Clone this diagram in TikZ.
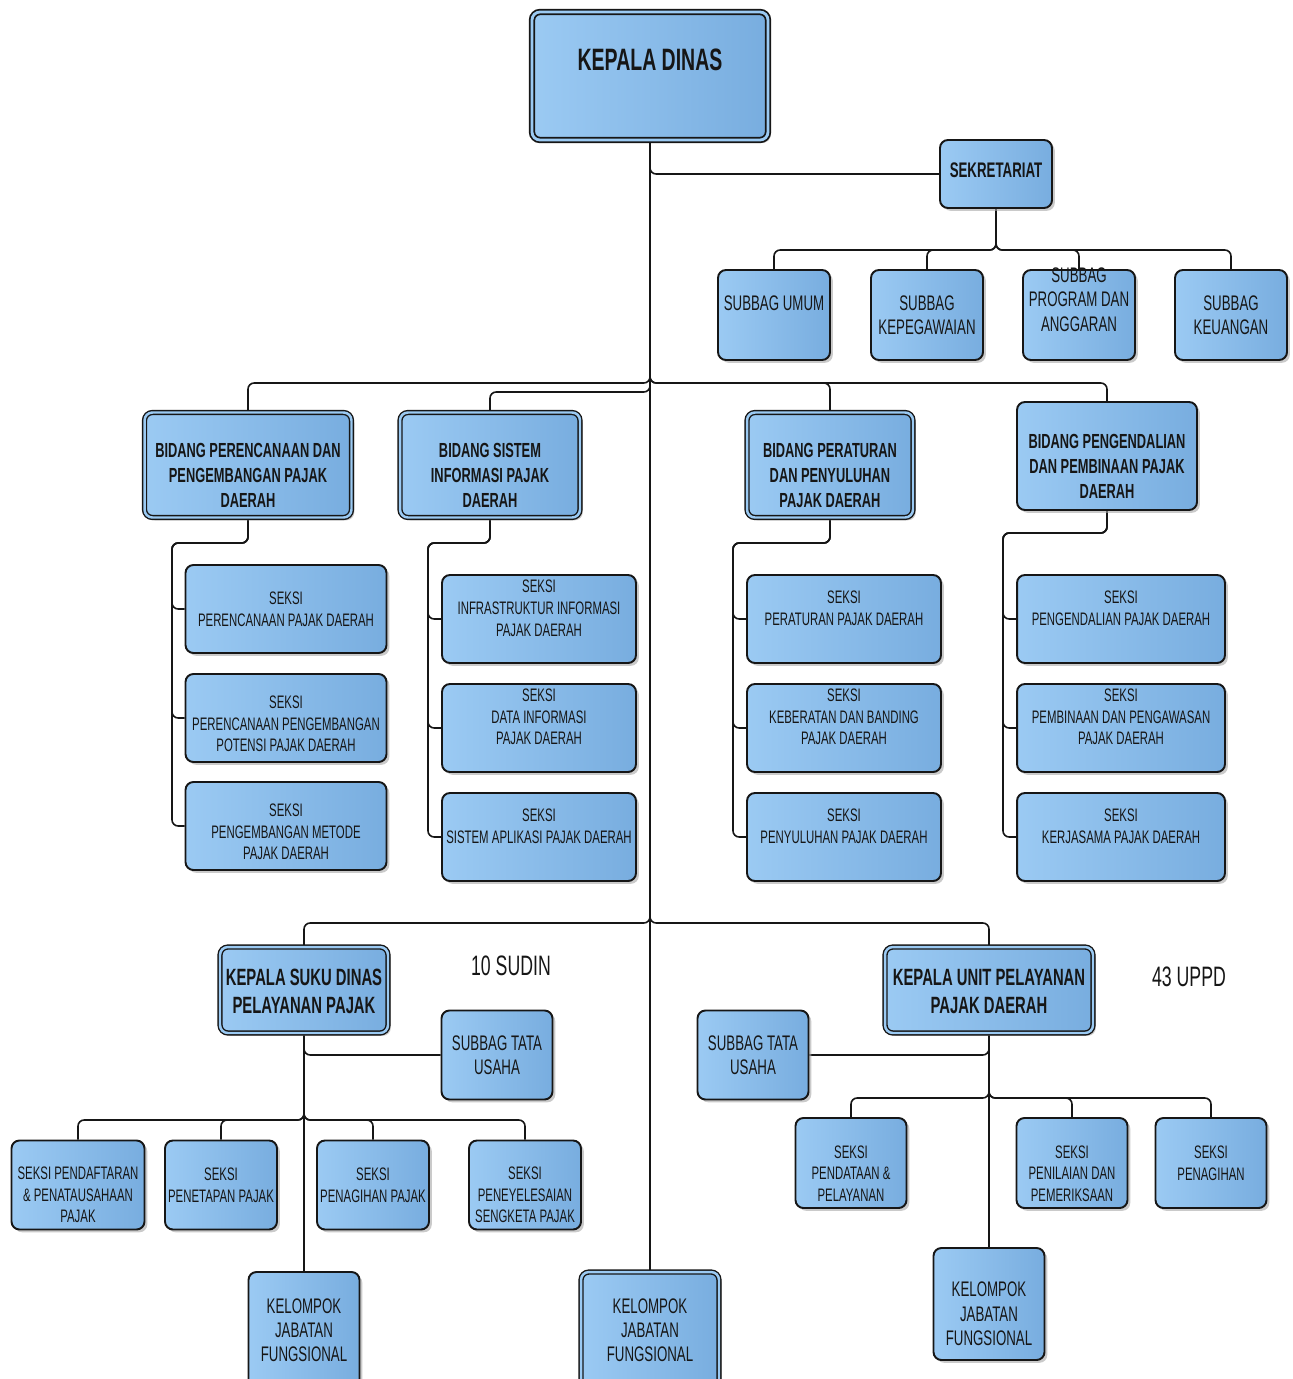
\documentclass[tikz,border=0pt]{standalone}
\usepackage{fontspec}
\setmainfont[FakeStretch=0.63]{Liberation Sans}
\usetikzlibrary{%
        backgrounds,
        shadows
    }
\definecolor{boxlight}{RGB}{155, 202, 243}
\definecolor{boxdark}{RGB}{120, 173, 223}
\definecolor{ink}{RGB}{22, 22, 22}
\newcommand{\lift}[2]{%
    \raisebox{#1}[\height][\depth]{\begin{tabular}{@{}c@{}}#2\end{tabular}}}
\tikzset{%
    box/.style={%
        draw=ink, line width=1.1pt, rounded corners=4.5pt,
        left color=boxlight, right color=boxdark,
        align=center, inner sep=1pt, text=ink,
        drop shadow={shadow xshift=1.6pt, shadow yshift=-1.6pt,
            fill=black!35, opacity=0.6}
    },
    dbox/.style={box, line width=0.8pt, double=boxlight, double distance=1.4pt},
    link/.style={draw=ink, line width=0.9pt, rounded corners=3.5pt},
    judul/.style={font=\bfseries\fontsize{11.6}{14.2}\selectfont},
    judul-besar/.style={font=\bfseries\fontsize{13.4}{15.9}\selectfont},
    teks-seksi/.style={font=\fontsize{10.3}{12.3}\selectfont},
    teks-subbag/.style={font=\fontsize{12}{13.8}\selectfont},
    keterangan/.style={font=\fontsize{16}{18}\selectfont, text=ink}
}

\begin{document}
\begin{tikzpicture}[x=0.02cm, y=-0.02cm]

    \useasboundingbox (0, 0) rectangle (1293, 1379);

    % Kepala dinas
    \node[dbox, line width=1pt, double distance=1.6pt,
          minimum width=4.72cm, minimum height=2.56cm,
          font=\bfseries\fontsize{17.6}{21}\selectfont]
        (kepala-dinas) at (650, 76) {\lift{7.5pt}{KEPALA DINAS}};

    % Sekretariat
    \node[box, minimum width=2.24cm, minimum height=1.36cm,
          font=\bfseries\fontsize{12}{14}\selectfont]
        (sekretariat) at (996, 174) {\lift{1pt}{SEKRETARIAT}};

    \node[box, teks-subbag, minimum width=2.24cm, minimum height=1.8cm]
        (subbag-umum) at (774, 315) {\lift{5.5pt}{SUBBAG UMUM}};
    \node[box, teks-subbag, minimum width=2.24cm, minimum height=1.8cm]
        (subbag-kepegawaian) at (927, 315) {SUBBAG\\KEPEGAWAIAN};
    \node[box, teks-subbag, minimum width=2.24cm, minimum height=1.8cm]
        (subbag-program) at (1079, 315)
        {\lift{7.4pt}{SUBBAG\\PROGRAM DAN\\ANGGARAN}};
    \node[box, teks-subbag, minimum width=2.24cm, minimum height=1.8cm]
        (subbag-keuangan) at (1231, 315) {SUBBAG\\KEUANGAN};

    % Bidang
    \node[dbox, judul, minimum width=4.14cm, minimum height=2.1cm]
        (bidang-1) at (248, 465)
        {\lift{-7pt}{BIDANG PERENCANAAN DAN\\PENGEMBANGAN PAJAK\\DAERAH}};
    \node[dbox, judul, minimum width=3.6cm, minimum height=2.1cm]
        (bidang-2) at (490, 465)
        {\lift{-7pt}{BIDANG SISTEM\\INFORMASI PAJAK\\DAERAH}};
    \node[dbox, judul, minimum width=3.32cm, minimum height=2.1cm]
        (bidang-3) at (830, 465)
        {\lift{-7pt}{BIDANG PERATURAN\\DAN PENYULUHAN\\PAJAK DAERAH}};
    \node[box, judul, minimum width=3.6cm, minimum height=2.16cm]
        (bidang-4) at (1107, 456)
        {\lift{-7pt}{BIDANG PENGENDALIAN\\DAN PEMBINAAN PAJAK\\DAERAH}};

    % Seksi bidang perencanaan
    \node[box, teks-seksi, minimum width=4.02cm, minimum height=1.76cm]
        (seksi-1-1) at (286, 609) {SEKSI\\PERENCANAAN PAJAK DAERAH};
    \node[box, teks-seksi, minimum width=4.02cm, minimum height=1.76cm]
        (seksi-1-2) at (286, 718)
        {\lift{-4.5pt}{SEKSI\\PERENCANAAN PENGEMBANGAN\\POTENSI PAJAK DAERAH}};
    \node[box, teks-seksi, minimum width=4.02cm, minimum height=1.76cm]
        (seksi-1-3) at (286, 826)
        {\lift{-4.5pt}{SEKSI\\PENGEMBANGAN METODE\\PAJAK DAERAH}};

    % Seksi bidang sistem informasi
    \node[box, teks-seksi, minimum width=3.88cm, minimum height=1.76cm]
        (seksi-2-1) at (539, 619)
        {\lift{5pt}{SEKSI\\INFRASTRUKTUR INFORMASI\\PAJAK DAERAH}};
    \node[box, teks-seksi, minimum width=3.88cm, minimum height=1.76cm]
        (seksi-2-2) at (539, 728)
        {\lift{5.2pt}{SEKSI\\DATA INFORMASI\\PAJAK DAERAH}};
    \node[box, teks-seksi, minimum width=3.88cm, minimum height=1.76cm]
        (seksi-2-3) at (539, 837)
        {\lift{5.2pt}{SEKSI\\SISTEM APLIKASI PAJAK DAERAH}};

    % Seksi bidang peraturan
    \node[box, teks-seksi, minimum width=3.88cm, minimum height=1.76cm]
        (seksi-3-1) at (844, 619)
        {\lift{5.2pt}{SEKSI\\PERATURAN PAJAK DAERAH}};
    \node[box, teks-seksi, minimum width=3.88cm, minimum height=1.76cm]
        (seksi-3-2) at (844, 728)
        {\lift{5.2pt}{SEKSI\\KEBERATAN DAN BANDING\\PAJAK DAERAH}};
    \node[box, teks-seksi, minimum width=3.88cm, minimum height=1.76cm]
        (seksi-3-3) at (844, 837)
        {\lift{5.2pt}{SEKSI\\PENYULUHAN PAJAK DAERAH}};

    % Seksi bidang pengendalian
    \node[box, teks-seksi, minimum width=4.16cm, minimum height=1.76cm]
        (seksi-4-1) at (1121, 619)
        {\lift{5.2pt}{SEKSI\\PENGENDALIAN PAJAK DAERAH}};
    \node[box, teks-seksi, minimum width=4.16cm, minimum height=1.76cm]
        (seksi-4-2) at (1121, 728)
        {\lift{5.2pt}{SEKSI\\PEMBINAAN DAN PENGAWASAN\\PAJAK DAERAH}};
    \node[box, teks-seksi, minimum width=4.16cm, minimum height=1.76cm]
        (seksi-4-3) at (1121, 837)
        {\lift{5.2pt}{SEKSI\\KERJASAMA PAJAK DAERAH}};

    % Suku dinas
    \node[dbox, judul-besar, minimum width=3.36cm, minimum height=1.72cm]
        (kasudin) at (304, 990) {\lift{-2.3pt}{KEPALA SUKU DINAS\\PELAYANAN PAJAK}};
    \node[keterangan] (jumlah-sudin) at (511, 966) {10 SUDIN};
    \node[box, teks-subbag, minimum width=2.22cm, minimum height=1.78cm]
        (tu-sudin) at (497, 1055) {SUBBAG TATA\\USAHA};

    \node[box, teks-seksi, minimum width=2.66cm, minimum height=1.78cm]
        (seksi-sudin-1) at (78, 1185)
        {\lift{-6.7pt}{SEKSI PENDAFTARAN\\\& PENATAUSAHAAN\\PAJAK}};
    \node[box, teks-seksi, minimum width=2.24cm, minimum height=1.78cm]
        (seksi-sudin-2) at (221, 1185) {SEKSI\\PENETAPAN PAJAK};
    \node[box, teks-seksi, minimum width=2.24cm, minimum height=1.78cm]
        (seksi-sudin-3) at (373, 1185) {SEKSI\\PENAGIHAN PAJAK};
    \node[box, teks-seksi, minimum width=2.24cm, minimum height=1.78cm]
        (seksi-sudin-4) at (525, 1185)
        {\lift{-6.7pt}{SEKSI\\PENEYELESAIAN\\SENGKETA PAJAK}};

    % Unit pelayanan
    \node[dbox, judul-besar, minimum width=4.16cm, minimum height=1.72cm]
        (uppd) at (989, 990) {\lift{-2.3pt}{KEPALA UNIT PELAYANAN\\PAJAK DAERAH}};
    \node[keterangan] (jumlah-uppd) at (1189, 977) {43 UPPD};
    \node[box, teks-subbag, minimum width=2.22cm, minimum height=1.78cm]
        (tu-uppd) at (753, 1055) {SUBBAG TATA\\USAHA};

    \node[box, teks-seksi, minimum width=2.22cm, minimum height=1.8cm]
        (seksi-uppd-1) at (851, 1163)
        {\lift{-7.2pt}{SEKSI\\PENDATAAN \&\\PELAYANAN}};
    \node[box, teks-seksi, minimum width=2.22cm, minimum height=1.8cm]
        (seksi-uppd-2) at (1072, 1163)
        {\lift{-7.2pt}{SEKSI\\PENILAIAN DAN\\PEMERIKSAAN}};
    \node[box, teks-seksi, minimum width=2.22cm, minimum height=1.8cm]
        (seksi-uppd-3) at (1211, 1163) {SEKSI\\PENAGIHAN};

    % Kelompok jabatan fungsional
    \node[box, teks-subbag, minimum width=2.22cm, minimum height=2.32cm]
        (kjf-sudin) at (304, 1330) {KELOMPOK\\JABATAN\\FUNGSIONAL};
    \node[dbox, teks-subbag, minimum width=2.76cm, minimum height=2.32cm]
        (kjf-tengah) at (650, 1330) {KELOMPOK\\JABATAN\\FUNGSIONAL};
    \node[box, teks-subbag, minimum width=2.22cm, minimum height=2.24cm]
        (kjf-uppd) at (989, 1304) {\lift{-7pt}{KELOMPOK\\JABATAN\\FUNGSIONAL}};

    % Garis
    \coordinate (sek-bus) at (996, 250);
    \coordinate (bidang-bus) at (650, 383);
    \coordinate (bidang-bus-b) at (650, 392);
    \coordinate (rail-1) at (172, 543);
    \coordinate (rail-2) at (428, 543);
    \coordinate (rail-3) at (733, 543);
    \coordinate (rail-4) at (1003, 533);
    \coordinate (bawah-bus) at (650, 923);
    \coordinate (sudin-bus) at (304, 1120);
    \coordinate (uppd-bus) at (989, 1098);

    \begin{scope}[on background layer]
        \draw[link] (kepala-dinas.south) -- (kjf-tengah.north);
        \draw[link] (kepala-dinas.south) |- (sekretariat.west);
        \foreach \s in {umum, kepegawaian, program, keuangan}{%
            \draw[link] (sekretariat.south) -- (sek-bus) -| (subbag-\s.north);
        };

        \draw[link] (kepala-dinas.south) -- (bidang-bus) -| (bidang-1.north);
        \draw[link] (kepala-dinas.south) -- (bidang-bus-b) -| (bidang-2.north);
        \draw[link] (kepala-dinas.south) -- (bidang-bus) -| (bidang-3.north);
        \draw[link] (kepala-dinas.south) -- (bidang-bus) -| (bidang-4.north);
        \foreach \c in {1, ..., 4}{%
            \foreach \r in {1, 2, 3}{%
                \draw[link] (bidang-\c.south) |- (rail-\c) |- (seksi-\c-\r.west);
            };
        };

        \draw[link] (kepala-dinas.south) -- (bawah-bus) -| (kasudin.north);
        \draw[link] (kepala-dinas.south) -- (bawah-bus) -| (uppd.north);

        \draw[link] (kasudin.south) |- (tu-sudin.west);
        \draw[link] (kasudin.south) -- (kjf-sudin.north);
        \foreach \i in {1, ..., 4}{%
            \draw[link] (kasudin.south) -- (sudin-bus) -| (seksi-sudin-\i.north);
        };

        \draw[link] (uppd.south) |- (tu-uppd.east);
        \draw[link] (uppd.south) -- (kjf-uppd.north);
        \foreach \i in {1, 2, 3}{%
            \draw[link] (uppd.south) -- (uppd-bus) -| (seksi-uppd-\i.north);
        };
    \end{scope}

\end{tikzpicture}
\end{document}
